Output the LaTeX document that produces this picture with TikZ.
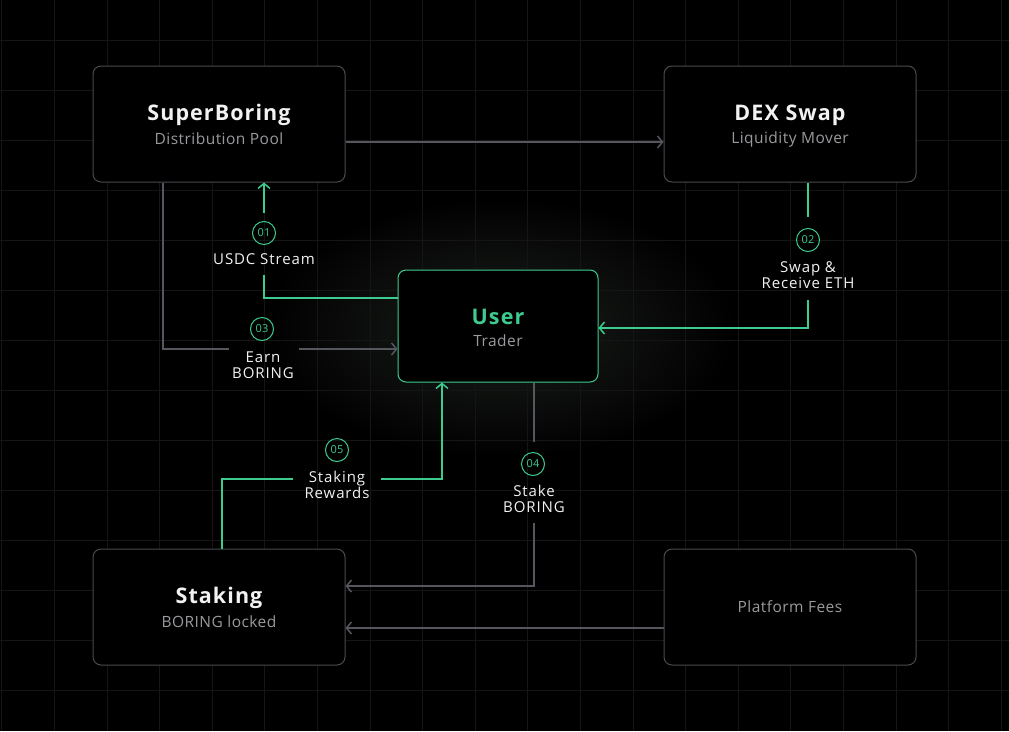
\documentclass[tikz,border=0pt]{standalone}
\usepackage{fontspec}
\setmainfont{Open Sans}
\usetikzlibrary{arrows.meta}
\definecolor{bgc}{HTML}{000000}
\definecolor{gridc}{HTML}{151515}
\definecolor{glowc}{HTML}{1C201D}
\definecolor{accent}{HTML}{3DCB8F}
\definecolor{linec}{HTML}{56565E}
\definecolor{boxline}{HTML}{4A4A50}
\definecolor{subc}{HTML}{9A9A9E}
\definecolor{txt}{HTML}{F2F2F2}
\begin{document}
\begin{tikzpicture}[x=1pt,y=-1pt,
  box/.style={draw=boxline, line width=1pt, fill=black, rounded corners=8pt,
    minimum width=252pt, minimum height=116pt, inner sep=0pt},
  ubox/.style={box, draw=accent, minimum width=200pt, minimum height=112pt},
  title/.style={text=txt, font=\fontsize{21.5}{26}\selectfont\bfseries\addfontfeatures{LetterSpace=5}, inner sep=0pt},
  utitle/.style={title, text=accent},
  sub/.style={text=subc, font=\fontsize{15.5}{18}\selectfont\addfontfeatures{LetterSpace=3}, inner sep=0pt},
  lab/.style={text=txt, font=\fontsize{15}{16}\selectfont\addfontfeatures{LetterSpace=6}, align=center, inner sep=0pt},
  num/.style={circle, draw=accent, line width=1pt, minimum size=23pt, inner sep=0pt,
    text=accent, font=\fontsize{11}{12}\selectfont},
  gline/.style={draw=accent, line width=1.5pt},
  sline/.style={draw=linec, line width=1.5pt},
  garrow/.style={gline, -{Straight Barb[length=5pt,width=12pt,line width=1.5pt]}},
  sarrow/.style={sline, -{Straight Barb[length=5pt,width=12pt,line width=1.5pt]}},
]
% background
\fill[bgc] (0,0) rectangle (1009,731);
\useasboundingbox (0,0) rectangle (1009,731);
\shade[inner color=glowc, outer color=bgc] (500,328) ellipse [x radius=235, y radius=130];
% grid
\foreach \k in {0,...,19} {\draw[gridc, line width=1pt] ({1.8+52.6*\k},0) -- ({1.8+52.6*\k},731);}
\foreach \k in {1,...,14} {\draw[gridc, line width=1pt] (0,{-10+50*\k}) -- (1009,{-10+50*\k});}

% boxes
\node[box] (sb) at (219,124) {};
\node[box] (dex) at (790,124) {};
\node[ubox] (user) at (498,326) {};
\node[box] (st) at (219,607) {};
\node[box] (pf) at (790,607) {};

\node[title] (sbT) at (219,115) {SuperBoring};
\node[sub] (sbS) at (219,139) {Distribution Pool};
\node[title] (dexT) at (790,115) {DEX Swap};
\node[sub] (dexS) at (790,139) {Liquidity Mover};
\node[utitle] (userT) at (498,317) {User};
\node[sub] (userS) at (498,341) {Trader};
\node[title] (stT) at (219,598) {Staking};
\node[sub] (stS) at (219,622) {BORING locked};
\node[sub] (pfT) at (790,607) {Platform Fees};

% labels
\node[num] (n1) at (264,233) {01};
\node[lab] (l1) at (264,259) {USDC Stream};
\node[num] (n2) at (808,240) {02};
\node[lab] (l2) at (808,275) {Swap \&\\Receive ETH};
\node[num] (n3) at (262,329) {03};
\node[lab] (l3) at (263,365) {Earn\\BORING};
\node[num] (n4) at (533,464) {04};
\node[lab] (l4) at (534,499) {Stake\\BORING};
\node[num] (n5) at (337,450) {05};
\node[lab] (l5) at (337,485) {Staking\\Rewards};

\coordinate (c1) at (264,275);
\coordinate (c2a) at (808,217);
\coordinate (c2b) at (808,300);
\coordinate (c3a) at (229,349);
\coordinate (c3b) at (299,349);
\coordinate (c4a) at (534,442);
\coordinate (c4b) at (534,523);
\coordinate (c5a) at (293,479);
\coordinate (c5b) at (381,479);

% connectors
\draw[sarrow] ([yshift=-18pt]sb.east) -- ([yshift=-18pt]dex.west);
% 01
\draw[gline] ([yshift=28pt]user.west) -| (c1);
\draw[garrow] ([yshift=8pt]n1.north) -- (sb.south -| n1.north);
% 02
\draw[gline] (dex.south -| c2a) -- (c2a);
\draw[garrow] (c2b) |- ([yshift=-2pt]user.east);
% 03
\draw[sline] ([xshift=-56pt]sb.south) |- (c3a);
\draw[sarrow] (c3b) -- (user.west |- c3b);
% 04
\draw[sline] ([xshift=36pt]user.south) -- (c4a);
\draw[sarrow] (c4b) |- ([yshift=21pt]st.east);
% 05
\draw[gline] ([xshift=3pt]st.north) |- (c5a);
\draw[garrow] (c5b) -| ([xshift=-56pt]user.south);
% fees
\draw[sarrow] ([yshift=-21pt]pf.west) -- ([yshift=-21pt]st.east);
\end{tikzpicture}
\end{document}
